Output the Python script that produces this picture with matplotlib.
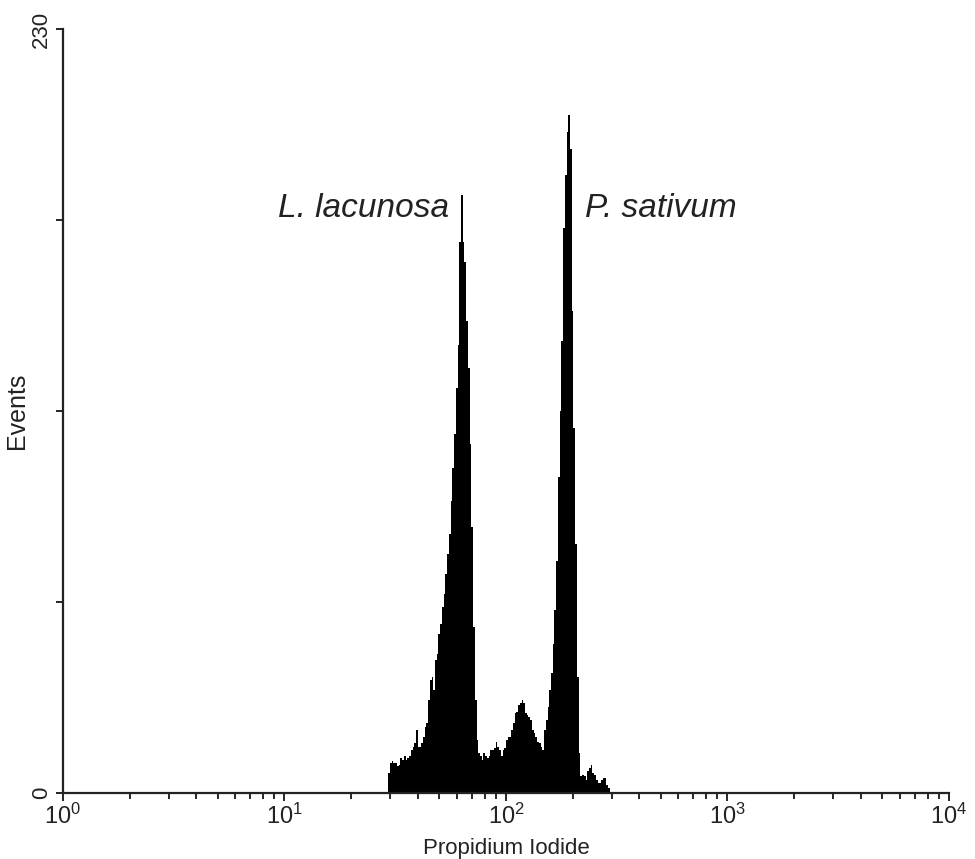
import numpy as np
import matplotlib
matplotlib.use('Agg')
import matplotlib.pyplot as plt

plt.rcParams['font.family'] = ['Liberation Sans', 'DejaVu Sans']
plt.rcParams['mathtext.fontset'] = 'custom'
plt.rcParams['mathtext.rm'] = 'Liberation Sans'

# histogram channels (512 channels over 4 decades), first channel and counts per channel
n_channels = 512
first_channel = 188
counts = [
    6, 9, 9.5, 9, 9, 8, 8.5, 10.5, 10, 11,            # 188-197
    10, 10.5, 11, 13, 14, 15, 19, 14, 14, 15,          # 198-207
    17, 20, 21, 28, 34, 35, 31, 40, 42, 48,            # 208-217
    51, 56, 60, 66, 72, 78, 88, 98, 108, 122,          # 218-227
    135, 166, 180, 166, 160, 142, 128, 105, 80, 50,    # 228-237
    28, 16, 12, 11, 10, 12, 11, 10.5, 11, 13,          # 238-247
    13, 13.5, 15.4, 14, 13, 11, 13, 13.5, 16, 17,      # 248-257
    17, 19, 21, 24, 24.5, 26.5, 27, 28, 27, 24,        # 258-267
    23.5, 23, 22, 19, 18, 17, 15.5, 15, 14, 13,        # 268-277
    19, 22, 26, 31, 36, 45, 55, 70, 95, 115,           # 278-287
    136, 170, 186, 199, 204, 194, 145, 110, 75, 35,    # 288-297
    12, 5, 5.5, 5, 4, 6.5, 7.5, 8.4, 6, 5.5,           # 298-307
    4, 3, 3, 4, 4.5, 4.5, 2.5, 1.5,                    # 308-315
]

x_ticks = [1, 10, 100, 1000, 10000]
x_ticklabels = [r'$\mathregular{10^{0}}$', r'$\mathregular{10^{1}}$', r'$\mathregular{10^{2}}$',
                r'$\mathregular{10^{3}}$', r'$\mathregular{10^{4}}$']
y_ticks = [0, 57.5, 115, 172.5, 230]
y_ticklabels = ['0', '', '', '', '230']

labels = [('L. lacunosa', 55.5, 176, 'right'), ('P. sativum', 228, 176, 'left')]


def plot_ploidy_histogram():
    fig = plt.figure(figsize=(9.75, 8.59), dpi=100)
    ax = fig.add_axes([0.0646, 0.0768, 0.9087, 0.8894])

    ch = np.arange(first_channel, first_channel + len(counts) + 1)
    edges = 10 ** (ch * 4.0 / n_channels)
    # single filled step outline, no antialiasing so the area renders solid
    ax.stairs(counts, edges, fill=True, facecolor='black', edgecolor='none',
              linewidth=0, antialiased=False)

    ax.set_xscale('log')
    ax.set_xlim(1, 10000)
    ax.set_ylim(0, 230)

    ax.set_xticks(x_ticks)
    ax.set_xticklabels(x_ticklabels, fontsize=17, color='#222222')
    ax.xaxis.set_minor_locator(matplotlib.ticker.LogLocator(base=10, subs=np.arange(2, 10)))
    ax.xaxis.set_minor_formatter(matplotlib.ticker.NullFormatter())
    ax.set_yticks(y_ticks)
    ax.set_yticklabels(y_ticklabels, fontsize=16, color='#222222', rotation=90, va='center')

    ax.tick_params(axis='x', which='major', direction='out', length=6, width=1.2, pad=2)
    ax.tick_params(axis='x', which='minor', direction='out', length=4, width=1.2)
    ax.tick_params(axis='y', which='major', direction='out', length=5, width=1.2, pad=3)

    for side in ['top', 'right']:
        ax.spines[side].set_visible(False)
    for side in ['left', 'bottom']:
        ax.spines[side].set_linewidth(1.6)
        ax.spines[side].set_color('#222222')

    ax.set_xlabel('Propidium Iodide', fontsize=16, color='#222222', labelpad=6)
    ax.set_ylabel('Events', fontsize=18, color='#222222', labelpad=1)

    for text, xv, yv, ha in labels:
        ax.text(xv, yv, text, fontsize=24, style='italic', ha=ha, va='center', color='#222222')

    fig.savefig('out.png', dpi=100)


if __name__ == "__main__":
    plot_ploidy_histogram()
